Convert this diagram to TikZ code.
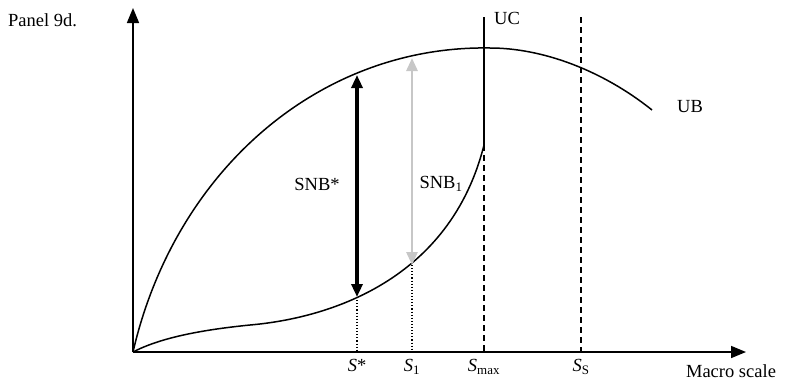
\documentclass[tikz,border=0pt]{standalone}
\usepackage{fontspec}
\setmainfont{Liberation Serif}
\usetikzlibrary{arrows.meta, positioning}

\tikzset{
  axis/.style={line width=1.6pt, -{Triangle[length=15pt, width=12pt]}},
  curve/.style={line width=1.5pt},
  guide/.style={line width=1.2pt, dash pattern=on 6pt off 4pt},
  dotguide/.style={line width=1.1pt, dotted},
  lbl/.style={font=\fontsize{18.5}{20}\selectfont, inner sep=1pt},
}

\begin{document}
\begin{tikzpicture}[x=1pt, y=-1pt]
            \useasboundingbox (0,0) rectangle (786,383);

            % Axes
            \coordinate (O) at (133,352);
            \coordinate (ytip) at (133,8);
            \coordinate (xtip) at (746,352);
            \draw[axis] (O) -- (ytip);
            \draw[axis] (O) -- (xtip);
            \node[lbl, anchor=west] (panel) at (7,20) {Panel 9d.};

            % UB curve
            \coordinate (ubpeak) at (490,48);
            \coordinate (ubend) at (652,110);
            \draw[curve] (O) .. controls (175,170) and (320,45) .. (ubpeak)
              .. controls (542,48) and (602,70) .. (ubend);
            \node[lbl] (ub) at (690,107) {UB};

            % cost curve (lower)
            \coordinate (lowmid) at (250,325);
            \coordinate (ucmid) at (484,145);
            \draw[curve] (O) .. controls (160,338) and (200,330) .. (lowmid)
              .. controls (330,318) and (450,280) .. (ucmid);

            % UC line and S_S line
            \coordinate (uctop) at (484,17);
            \coordinate (smax) at (484,352);
            \draw[curve] (uctop) -- (ucmid);
            \draw[guide] (ucmid) -- (smax);
            \node[lbl, anchor=west] (uc) at (493,18) {UC};
            \coordinate (sstop) at (581,17);
            \coordinate (ss) at (581,352);
            \draw[guide] (sstop) -- (ss);

            % SNB arrows
            \coordinate (snbtop) at (357,75);
            \coordinate (snbbot) at (357,297);
            \coordinate (sstar) at (357,352);
            \draw[line width=3.2pt, {Triangle[length=13pt, width=11pt]}-{Triangle[length=13pt, width=11pt]}] (snbtop) -- (snbbot);
            \draw[dotguide] (snbbot) -- (sstar);
            \node[lbl] (snbstar) at (317,184) {SNB*};

            \coordinate (snbonetop) at (412,58);
            \coordinate (snbonebot) at (412,265);
            \coordinate (sone) at (412,352);
            \draw[line width=2.8pt, black!22, {Triangle[length=13pt, width=11pt]}-{Triangle[length=13pt, width=11pt]}] (snbonetop) -- (snbonebot);
            \draw[dotguide] (snbonebot) -- (sone);
            \node[lbl] (snbone) at (441,184) {SNB\textsubscript{1}};

            % Axis labels
            \node[lbl, below=6pt of sstar] (lsstar) {\textit{S}*};
            \node[lbl, below=6pt of sone] (lsone) {\textit{S}\textsubscript{1}};
            \node[lbl, below=6pt of smax] (lsmax) {\textit{S}\textsubscript{max}};
            \node[lbl, below=6pt of ss] (lss) {\textit{S}\textsubscript{S}};
            \node[lbl] (macro) at (731,371) {Macro scale};
        \end{tikzpicture}
\end{document}
